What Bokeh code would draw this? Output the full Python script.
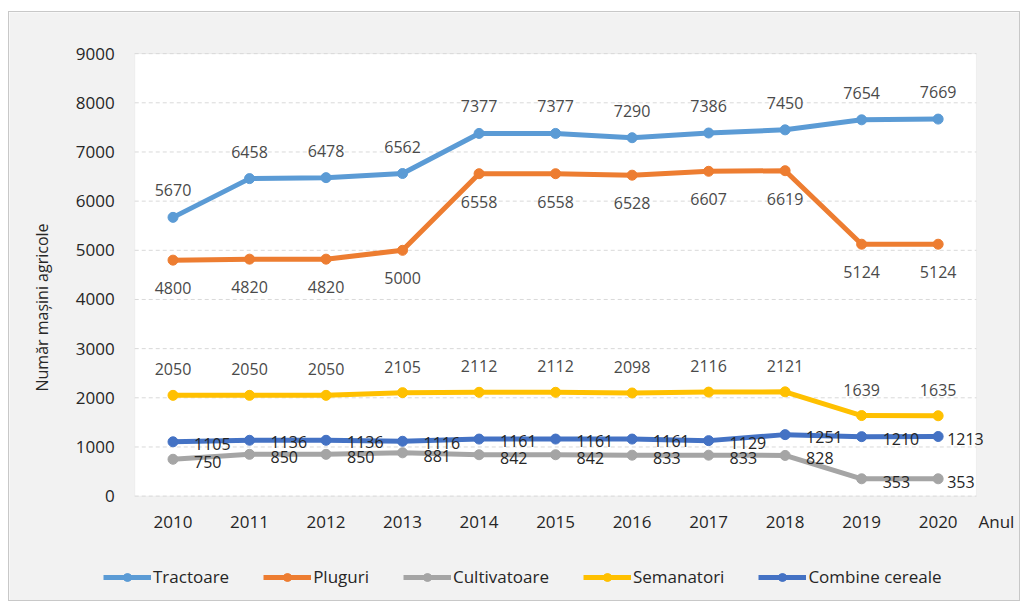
from bokeh.plotting import figure
from bokeh.models import ColumnDataSource, Legend, LegendItem, FixedTicker, BoxAnnotation
from bokeh.core.properties import value
from bokeh.embed import file_html
from bokeh.resources import INLINE

# ---------------- data ----------------
years = [2010, 2011, 2012, 2013, 2014, 2015, 2016, 2017, 2018, 2019, 2020]
tractoare = [5670, 6458, 6478, 6562, 7377, 7377, 7290, 7386, 7450, 7654, 7669]
pluguri = [4800, 4820, 4820, 5000, 6558, 6558, 6528, 6607, 6619, 5124, 5124]
cultivatoare = [750, 850, 850, 881, 842, 842, 833, 833, 828, 353, 353]
semanatori = [2050, 2050, 2050, 2105, 2112, 2112, 2098, 2116, 2121, 1639, 1635]
combine = [1105, 1136, 1136, 1116, 1161, 1161, 1161, 1129, 1251, 1210, 1213]
series_names = ["Tractoare", "Pluguri", "Cultivatoare", "Semanatori", "Combine cereale"]
y_ticks = [0, 1000, 2000, 3000, 4000, 5000, 6000, 7000, 8000, 9000]
y_title = "Număr mașini agricole"
x_title = "Anul"

# ---------------- styles / layout ----------------
FONT = "Open Sans"
TXT = "#4a4a4a"
AXT = "#262626"
DARK = "#262626"
colors = ["#5B9BD5", "#ED7D31", "#A5A5A5", "#FFC000", "#4472C4"]
right_dx = [21] * 10 + [9]
placements = [
    ("center", [0] * 11, -27, TXT),
    ("center", [0] * 11, 28, TXT),
    ("left", right_dx, 3, DARK),
    ("center", [0] * 11, -26, TXT),
    ("left", right_dx, 2, DARK),
]

W, H = 1012, 590
CANVAS_X, CANVAS_Y = 9, 12            # page position of the drawing area
CW, CH = W - 2, H - 2                 # drawing area (inside 1px border)
AREA_L, AREA_R, AREA_T, AREA_B = 134, 974, 53, 494   # white plot area in page px

x_lo = min(years) - 0.5
x_hi = max(years) + 0.5
y_lo, y_hi = min(y_ticks), max(y_ticks)
sx = (AREA_R - AREA_L) / (x_hi - x_lo)
sy = (AREA_B - AREA_T) / (y_hi - y_lo)
x_start = x_lo - (AREA_L - CANVAS_X) / sx
x_end = x_start + CW / sx
y_end = y_hi + (AREA_T - CANVAS_Y) / sy
y_start = y_end - CH / sy
x_title_pos = x_hi + 20 / sx

p = figure(width=W, height=H, output_backend="svg", toolbar_location=None,
           x_range=(x_start, x_end), y_range=(y_start, y_end), min_border=0)
p.margin = (11, 0, 0, 8)
p.styles = {"border": "1px solid #c8c8c8"}
p.border_fill_color = "#f2f2f2"
p.background_fill_color = "#f2f2f2"
p.outline_line_color = None

# white plot area
p.add_layout(BoxAnnotation(left=x_lo, right=x_hi, bottom=y_lo, top=y_hi,
                           fill_color="white", fill_alpha=1, line_color="#d9d9d9",
                           line_width=1, level="underlay"))

p.xgrid.grid_line_color = None
p.ygrid.grid_line_color = None
p.segment(x0=[x_lo] * len(y_ticks), x1=[x_hi] * len(y_ticks), y0=y_ticks, y1=y_ticks,
          line_color="#d9d9d9", line_width=1, line_dash="4 3")

p.xaxis.fixed_location = y_lo
p.yaxis.fixed_location = x_lo
p.xaxis.ticker = FixedTicker(ticks=years + [x_title_pos])
p.xaxis.major_label_overrides = {x_title_pos: x_title}
p.yaxis.ticker = FixedTicker(ticks=y_ticks)
for ax in (p.xaxis, p.yaxis):
    ax.axis_line_color = None
    ax.major_tick_line_color = None
    ax.minor_tick_line_color = None
    ax.major_label_text_font = FONT
    ax.major_label_text_font_size = "17px"
    ax.major_label_text_color = AXT
p.xaxis.major_label_standoff = 8
p.yaxis.major_label_standoff = 14
p.yaxis.axis_label = y_title
p.yaxis.axis_label_text_font = FONT
p.yaxis.axis_label_text_font_size = "16px"
p.yaxis.axis_label_text_font_style = "normal"
p.yaxis.axis_label_text_color = AXT
p.yaxis.axis_label_standoff = 20

all_series = [tractoare, pluguri, cultivatoare, semanatori, combine]
legend_items = []
for name, vals, col, (align, dxs, dy, tcol) in zip(series_names, all_series, colors, placements):
    src = ColumnDataSource(dict(x=years, y=vals, lab=[str(v) for v in vals], dx=dxs))
    ln = p.line("x", "y", source=src, line_color=col, line_width=5)
    sc = p.scatter("x", "y", source=src, marker="circle", size=10, fill_color=col, line_color=col)
    p.text("x", "y", text="lab", source=src, x_offset="dx", y_offset=dy,
           text_align=align, text_baseline="middle", text_font=value(FONT),
           text_font_size="16px", text_color=tcol)
    legend_items.append(LegendItem(label=name, renderers=[ln, sc]))

LEG_PAD = 4
legend = Legend(items=legend_items, orientation="horizontal",
                location=(107 - LEG_PAD - CANVAS_X, (CANVAS_Y + CH) - (572 + 10 + LEG_PAD)))
legend.label_text_font = FONT
legend.label_text_font_size = "17px"
legend.label_text_color = AXT
legend.glyph_width = 48
legend.glyph_height = 20
legend.label_standoff = 2
legend.spacing = 34
legend.padding = LEG_PAD
legend.margin = 0
legend.border_line_color = None
legend.background_fill_alpha = 0
p.add_layout(legend, "center")

open("out.html", "w").write(file_html(p, INLINE))
